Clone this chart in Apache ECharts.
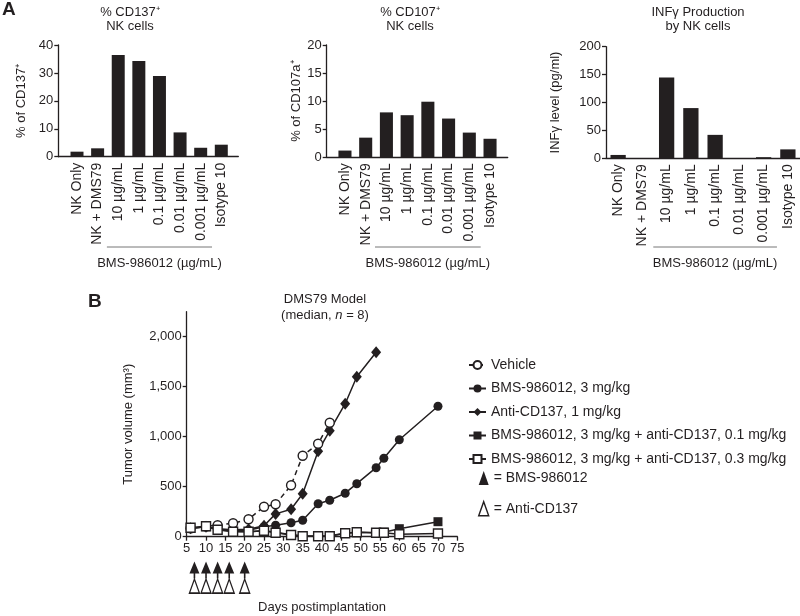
<!DOCTYPE html>
<html>
<head>
<meta charset="UTF-8">
<title>NK cells / DMS79 model</title>
<script src="https://cdn.jsdelivr.net/npm/echarts@6/dist/echarts.min.js"></script>
</head>
<body style="margin:0;background:#fff">
<div id="main" style="width:800px;height:616px"></div>
<script>
// panel A data
var categories = ['NK Only', 'NK + DMS79', '10 µg/mL', '1 µg/mL', '0.1 µg/mL', '0.01 µg/mL', '0.001 µg/mL', 'Isotype 10'];
var cd137 = [1.8, 3.0, 36.4, 34.3, 28.9, 8.7, 3.2, 4.3];
var cd107 = [1.2, 3.5, 8.0, 7.5, 9.9, 6.9, 4.4, 3.3];
var ifng = [6, 0, 145, 90, 42, 0, 2, 16];

// panel B data (days postimplantation, median tumor volume)
var days = [6, 10, 13, 17, 21, 25, 28, 32, 35, 39, 42, 46, 49, 54, 56, 60, 70];
var vehicle = [85, 105, 115, 135, 175, 300, 325, 515, 810, 930, 1140];
var bms = [85, 100, 75, 60, 65, 100, 115, 140, 165, 330, 365, 435, 530, 690, 785, 970, 1305];
var antiCd137 = [85, 100, 80, 70, 75, 110, 228, 275, 430, 855, 1060, 1330, 1600, 1845];
var combo01 = [85, 100, 70, 55, 50, 60, 45, 20, 10, 8, 10, 35, 45, 40, 45, 80, 150];
var combo03 = [90, 105, 70, 50, 50, 60, 40, 17, 5, 5, 5, 35, 45, 40, 40, 25, 32];
var doseDays = [7, 10, 13, 16, 20];
var volumeTicks = [0, 500, 1000, 1500, 2000];

var FONT = '"Liberation Sans", Arial, Helvetica, sans-serif';
var INK = '#231f20';

var chart = echarts.init(document.getElementById('main'));

var grids = [], xAxes = [], yAxes = [], series = [];

function txt(size) {
  return {color: INK, fontFamily: FONT, fontSize: size};
}

function barPanel(p) {
  var g = grids.length;
  grids.push({left: p.left, top: p.top, width: p.width, height: p.height});
  xAxes.push({
    gridIndex: g, type: 'category', data: categories,
    axisLine: {show: p.lineLeft == null, lineStyle: {color: INK, width: 1.3}},
    axisTick: {show: false},
    axisLabel: Object.assign({rotate: 90, margin: 6, interval: 0}, txt(14))
  });
  yAxes.push({
    gridIndex: g, type: 'value', min: 0, max: p.max, interval: p.interval, offset: p.offset || 0,
    name: p.name, nameLocation: 'middle', nameGap: p.nameGap, nameTextStyle: txt(13),
    axisLine: {show: true, lineStyle: {color: INK, width: 1.3}},
    axisTick: {show: true, length: 4, lineStyle: {color: INK, width: 1.3}},
    axisLabel: Object.assign({margin: 5}, txt(13)),
    splitLine: {show: false}
  });
  series.push({
    type: 'bar', xAxisIndex: xAxes.length - 1, yAxisIndex: yAxes.length - 1,
    data: p.data, barWidth: '63%', itemStyle: {color: INK}, silent: true
  });
  if (p.lineLeft != null) {
    // longer baseline than the bar bands
    var a = grids.length;
    grids.push({left: p.lineLeft, top: p.top, width: p.lineWidth, height: p.height});
    xAxes.push({gridIndex: a, type: 'value', min: 0, max: 1,
      axisLine: {show: true, lineStyle: {color: INK, width: 1.3}},
      axisTick: {show: false}, axisLabel: {show: false}, splitLine: {show: false}});
    yAxes.push({gridIndex: a, type: 'value', show: false, min: 0, max: 1});
  }
  return xAxes.length - (p.lineLeft != null ? 2 : 1);
}

var ax1 = barPanel({left: 66.7, width: 164.9, top: 45, height: 111.7, max: 40, interval: 10, offset: 8.4,
  name: '% of CD137⁺', nameGap: 30, data: cd137, lineLeft: 58.3, lineWidth: 180});
var ax2 = barPanel({left: 334.6, width: 165.8, top: 45, height: 112.3, max: 20, interval: 5, offset: 7.9,
  name: '% of CD107a⁺', nameGap: 23, data: cd107, lineLeft: 326.7, lineWidth: 181});
var ax3 = barPanel({left: 606, width: 194, top: 46.7, height: 111.6, max: 200, interval: 50,
  name: 'INFγ level (pg/ml)', nameGap: 44, data: ifng});

// panel B line chart
var gB = grids.length;
grids.push({left: 186.7, width: 270.6, top: 311.7, height: 225});
var xB = xAxes.length;
xAxes.push({
  gridIndex: gB, type: 'value', min: 5, max: 75, interval: 5,
  name: 'Days postimplantation', nameLocation: 'middle', nameGap: 64, nameTextStyle: txt(13),
  axisLine: {lineStyle: {color: INK, width: 1.3}},
  axisTick: {length: 4, lineStyle: {color: INK, width: 1.3}},
  axisLabel: Object.assign({margin: 5}, txt(13)),
  splitLine: {show: false}
});
var yB = yAxes.length;
yAxes.push({
  gridIndex: gB, type: 'value', min: 0, max: 2250,
  name: 'Tumor volume (mm³)', nameLocation: 'middle', nameGap: 52, nameTextStyle: txt(13),
  axisLine: {show: true, lineStyle: {color: INK, width: 1.3}},
  axisTick: {show: true, length: 4, customValues: volumeTicks, lineStyle: {color: INK, width: 1.3}},
  axisLabel: Object.assign({margin: 5, customValues: volumeTicks,
    formatter: function (v) { return v.toLocaleString('en-US'); }}, txt(13)),
  splitLine: {show: false}
});

function pairs(vals) {
  return vals.map(function (v, i) { return [days[i], v]; });
}

function lineSeries(name, vals, symbol, open, dashed, size) {
  return {
    name: name, type: 'line', xAxisIndex: xB, yAxisIndex: yB, data: pairs(vals),
    symbol: symbol, symbolSize: size, showSymbol: true,
    lineStyle: {color: INK, width: 1.5, type: dashed ? [5, 4] : 'solid'},
    itemStyle: open ? {color: '#fff', borderColor: INK, borderWidth: 1.4, opacity: 1}
                    : {color: INK, borderColor: INK, borderWidth: 0, opacity: 1}
  };
}

series.push(lineSeries('BMS-986012, 3 mg/kg + anti-CD137, 0.1 mg/kg', combo01, 'rect', false, false, 9));
series.push(lineSeries('BMS-986012, 3 mg/kg', bms, 'circle', false, false, 9));
series.push(lineSeries('Anti-CD137, 1 mg/kg', antiCd137, 'diamond', false, false, [10, 12]));
series.push(lineSeries('Vehicle', vehicle, 'circle', true, true, 9));
series.push(lineSeries('BMS-986012, 3 mg/kg + anti-CD137, 0.3 mg/kg', combo03, 'rect', true, false, 9));

// dosing arrows under the x axis
var gD = grids.length;
grids.push({left: 186.7, width: 270.6, top: 560, height: 36});
var xD = xAxes.length;
xAxes.push({gridIndex: gD, type: 'value', min: 5, max: 75, show: false});
var yD = yAxes.length;
yAxes.push({gridIndex: gD, type: 'value', min: 0, max: 2, show: false});
series.push({
  name: 'BMS-986012', type: 'scatter', xAxisIndex: xD, yAxisIndex: yD,
  data: doseDays.map(function (d) { return [d, 1.45]; }),
  symbol: 'path://M5,0 L10,12 L5.8,12 L5.8,17 L4.2,17 L4.2,12 L0,12 Z', symbolSize: [10, 17],
  itemStyle: {color: INK, opacity: 1}, silent: true
});
series.push({
  name: 'Anti-CD137', type: 'scatter', xAxisIndex: xD, yAxisIndex: yD,
  data: doseDays.map(function (d) { return [d, 0.55]; }),
  symbol: 'triangle', symbolSize: [10, 14],
  itemStyle: {color: '#fff', borderColor: INK, borderWidth: 1.4, opacity: 1}, silent: true
});

var titleBase = {padding: 0, textAlign: 'center', textStyle: Object.assign({fontWeight: 'normal', lineHeight: 14}, txt(13))};

var option = {
  animation: false,
  backgroundColor: '#fff',
  title: [
    {text: 'A', left: 2, top: 0, padding: 0, textStyle: {fontFamily: FONT, fontSize: 19, fontWeight: 'bold', color: INK}},
    {text: 'B', left: 88, top: 292, padding: 0, textStyle: {fontFamily: FONT, fontSize: 19, fontWeight: 'bold', color: INK}},
    Object.assign({text: '% CD137⁺\nNK cells', left: 130, top: 5}, titleBase),
    Object.assign({text: '% CD107⁺\nNK cells', left: 410, top: 5}, titleBase),
    Object.assign({text: 'INFγ Production\nby NK cells', left: 698, top: 5}, titleBase),
    {text: 'DMS79 Model\n(median, {i|n} = 8)', left: 325, top: 291, padding: 0, textAlign: 'center',
      textStyle: Object.assign({fontWeight: 'normal', lineHeight: 16,
        rich: {i: {fontStyle: 'italic', fontFamily: FONT, fontSize: 13, color: INK}}}, txt(13))}
  ],
  legend: [
    {
      orient: 'vertical', left: 468, top: 358, padding: 0, itemWidth: 17, itemHeight: 10, itemGap: 9.5,
      textStyle: txt(14), selectedMode: false,
      data: ['Vehicle', 'BMS-986012, 3 mg/kg', 'Anti-CD137, 1 mg/kg',
        'BMS-986012, 3 mg/kg + anti-CD137, 0.1 mg/kg', 'BMS-986012, 3 mg/kg + anti-CD137, 0.3 mg/kg']
    },
    {
      orient: 'vertical', left: 478, top: 471, padding: 0, itemWidth: 10, itemHeight: 14, itemGap: 16,
      textStyle: txt(14), selectedMode: false,
      formatter: function (n) { return '= ' + n; },
      data: [
        {name: 'BMS-986012', icon: 'triangle', itemStyle: {color: INK, opacity: 1}},
        {name: 'Anti-CD137', icon: 'triangle', itemStyle: {color: '#fff', borderColor: INK, borderWidth: 1.4, opacity: 1}}
      ]
    }
  ],
  grid: grids,
  xAxis: xAxes,
  yAxis: yAxes,
  series: series
};

chart.setOption(option);

// bracket under the BMS-986012 dose categories
var graphics = [];
[ax1, ax2, ax3].forEach(function (xi) {
  var c0 = chart.convertToPixel({xAxisIndex: xi}, categories[2]);
  var c1 = chart.convertToPixel({xAxisIndex: xi}, categories[6]);
  var band = (c1 - c0) / 4;
  var x0 = c0 - 0.55 * band, x1 = c1 + 0.55 * band;
  graphics.push({type: 'line', shape: {x1: x0, y1: 247, x2: x1, y2: 247}, style: {stroke: '#777', lineWidth: 1}, silent: true});
  graphics.push({type: 'text', x: (x0 + x1) / 2, y: 263,
    style: {text: 'BMS-986012 (µg/mL)', fill: INK, font: '13px ' + FONT, align: 'center', verticalAlign: 'middle'}, silent: true});
});
chart.setOption({graphic: graphics});
</script>
</body>
</html>
